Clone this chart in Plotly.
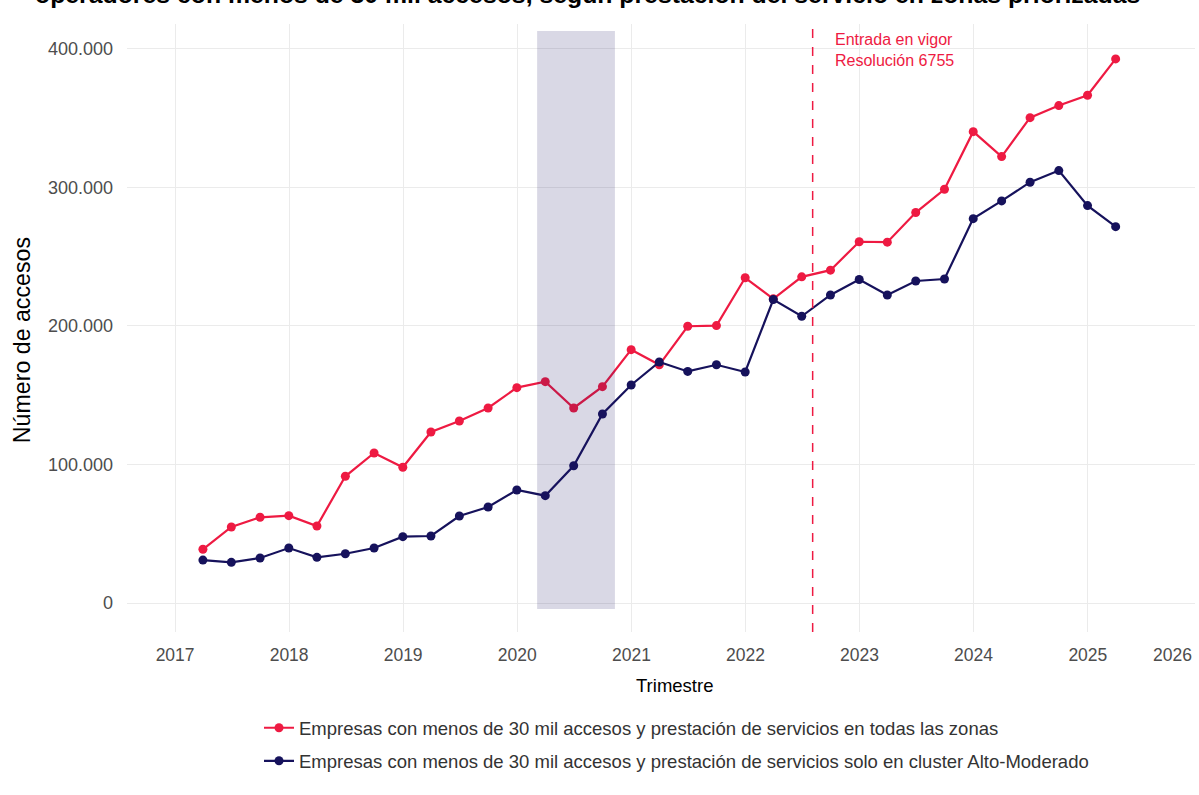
import pandas as pd
import plotly.graph_objects as go

# ---------------- data ----------------
trimestres = [
    "2017Q1", "2017Q2", "2017Q3", "2017Q4",
    "2018Q1", "2018Q2", "2018Q3", "2018Q4",
    "2019Q1", "2019Q2", "2019Q3", "2019Q4",
    "2020Q1", "2020Q2", "2020Q3", "2020Q4",
    "2021Q1", "2021Q2", "2021Q3", "2021Q4",
    "2022Q1", "2022Q2", "2022Q3", "2022Q4",
    "2023Q1", "2023Q2", "2023Q3", "2023Q4",
    "2024Q1", "2024Q2", "2024Q3", "2024Q4",
    "2025Q1",
]
todas_zonas = [
    38800, 54900, 61900, 63100,
    55600, 91500, 108300, 98000,
    123500, 131400, 140800, 155500,
    159800, 140800, 156200, 182900,
    172000, 199800, 200300, 234800,
    219600, 235500, 240300, 260800,
    260500, 281900, 298700, 340300,
    322300, 350400, 359100, 366600,
    392800,
]
solo_cluster = [
    31000, 29400, 32500, 39700,
    33000, 35600, 39700, 47900,
    48400, 62800, 69300, 81600,
    77500, 99100, 136500, 157400,
    174000, 167200, 172000, 166800,
    219100, 207000, 222400, 233600,
    222400, 232500, 233900, 277500,
    290300, 303800, 312200, 286900,
    271700,
]
nombres = [
    "Empresas con menos de 30 mil accesos y prestación de servicios en todas las zonas",
    "Empresas con menos de 30 mil accesos y prestación de servicios solo en cluster Alto-Moderado",
]
anios_ticks = [2017, 2018, 2019, 2020, 2021, 2022, 2023, 2024, 2025]
pandemia = ["2020-03-05", "2020-11-09"]
resolucion_fecha = "2022-08-04"
titulo = "operadores con menos de 30 mil accesos, según prestación del servicio en zonas priorizadas"

# ---------------- styling ----------------
ROJO = "#EE1A42"
AZUL = "#16125C"
FONT = "Liberation Sans, Arial, sans-serif"

fechas = pd.PeriodIndex(trimestres, freq="Q").end_time.normalize()

fig = go.Figure()
fig.add_trace(go.Scatter(
    x=fechas, y=todas_zonas, mode="lines+markers", name=nombres[0],
    line=dict(color=ROJO, width=2.2), marker=dict(color=ROJO, size=9),
    legendgroup="a",
))
fig.add_trace(go.Scatter(
    x=fechas, y=solo_cluster, mode="lines+markers", name=nombres[1],
    line=dict(color=AZUL, width=2.2), marker=dict(color=AZUL, size=9),
    legendgroup="b",
))

# pandemic shaded band (drawn above the lines, translucent)
fig.add_shape(type="rect", xref="x", yref="y",
              x0=pandemia[0], x1=pandemia[1], y0=-4300, y1=413000,
              fillcolor="rgba(28,26,100,0.17)", line=dict(width=0), layer="above")

# resolution line
fig.add_shape(type="line", xref="x", yref="paper",
              x0=resolucion_fecha, x1=resolucion_fecha, y0=0, y1=1,
              line=dict(color=ROJO, width=1.5, dash="dash"))
fig.add_annotation(x=resolucion_fecha, xref="x", xanchor="left", xshift=20,
                   y=1, yref="paper", yanchor="top", yshift=-5,
                   text="Entrada en vigor<br>Resolución 6755", align="left",
                   showarrow=False, font=dict(family=FONT, size=16, color=ROJO))

# cut-off title at top
fig.add_annotation(x=-0.088, xref="paper", xanchor="left",
                   y=1.0493, yref="paper", yanchor="middle",
                   text="<b>" + titulo + "</b>", showarrow=False,
                   font=dict(family=FONT, size=24.8, color="#000000"))

# axis titles
fig.add_annotation(x=-0.0983, xref="paper", xanchor="center",
                   y=0.48, yref="paper", yanchor="middle",
                   text="Número de accesos", textangle=-90, showarrow=False,
                   font=dict(family=FONT, size=23.2, color="#000000"))
fig.add_annotation(x=0.513, xref="paper", xanchor="center",
                   y=-0.0888, yref="paper", yanchor="middle",
                   text="Trimestre", showarrow=False,
                   font=dict(family=FONT, size=18.5, color="#000000"))
# last year label at right border
fig.add_annotation(x=0.9794, xref="paper", xanchor="center",
                   y=-0.0378, yref="paper", yanchor="middle",
                   text="2026", showarrow=False,
                   font=dict(family=FONT, size=17.5, color="#4D4D4D"))

fig.update_layout(
    width=1199, height=795,
    margin=dict(l=127, r=4, t=24, b=163),
    paper_bgcolor="white", plot_bgcolor="white",
    separators=",.",
    font=dict(family=FONT, color="#4D4D4D"),
    showlegend=True,
    legend=dict(orientation="v", x=0.1236, xanchor="left", y=-0.127, yanchor="top",
                font=dict(family=FONT, size=18.5, color="#333333"),
                tracegroupgap=6, bgcolor="rgba(0,0,0,0)"),
)
fig.update_xaxes(
    type="date", range=["2016-07-31", "2025-12-10"],
    tickvals=[f"{a}-01-01" for a in anios_ticks],
    ticktext=[str(a) for a in anios_ticks],
    showgrid=True, gridcolor="#EBEBEB", gridwidth=1,
    zeroline=False, showline=False, ticks="",
    ticklabelstandoff=10,
    tickfont=dict(family=FONT, size=17.5, color="#4D4D4D"),
)
fig.update_yaxes(
    range=[-20900, 418000],
    tickvals=[0, 100000, 200000, 300000, 400000],
    tickformat=",d",
    showgrid=True, gridcolor="#EBEBEB", gridwidth=1,
    zeroline=False, showline=False, ticks="",
    ticklabelstandoff=13,
    tickfont=dict(family=FONT, size=18, color="#4D4D4D"),
)

fig.write_html("out.html", config={"displayModeBar": False},
               post_script="document.body.style.margin='0';")
